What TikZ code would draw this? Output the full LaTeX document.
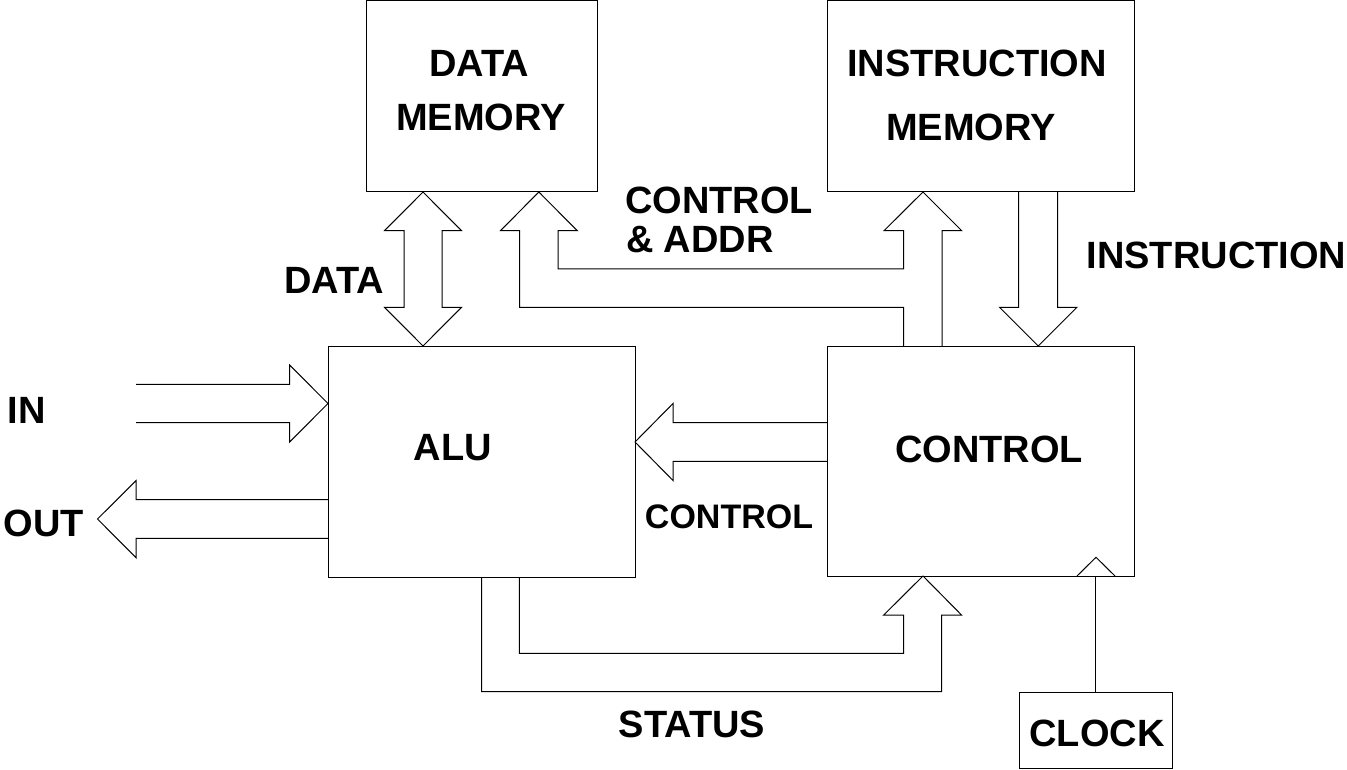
\documentclass[tikz,border=0pt]{standalone}
\usepackage{fontspec}
\setmainfont{Liberation Sans}
\begin{document}
\begin{tikzpicture}[x=1pt,y=-1pt,
  box/.style={draw, line width=1pt, inner sep=0pt, outer sep=0pt},
  bus/.style={draw, line width=1pt, line join=miter},
  lbl/.style={inner sep=0pt, outer sep=0pt, font=\fontsize{38}{38}\selectfont\bfseries}]
\useasboundingbox (0,0) rectangle (1347,770);
% boxes
\node[box, minimum width=231pt, minimum height=191pt] (dmem) at (481.5,96.5) {};
\node[box, minimum width=307pt, minimum height=191pt] (imem) at (980.5,96.5) {};
\node[box, minimum width=307pt, minimum height=231pt] (alu) at (481.5,461.5) {};
\node[box, minimum width=307pt, minimum height=230pt] (ctrl) at (980.5,461) {};
\node[box, minimum width=153pt, minimum height=76pt] (clk) at (1095.5,730) {};
% texts
\node[lbl, anchor=base] (tdata1) at (479,77) {DATA};
\node[lbl, anchor=base] (tdata2) at (481,130.3) {MEMORY};
\node[lbl, anchor=base] (tinst1) at (977,77) {INSTRUCTION};
\node[lbl, anchor=base] (tinst2) at (971,140.3) {MEMORY};
\node[lbl, anchor=base] (talu) at (453,460.3) {ALU};
\node[lbl, anchor=base] (tctrl) at (989,462) {CONTROL};
\node[lbl, anchor=base] (tclk) at (1097,746) {CLOCK};
\node[lbl, anchor=base] (ldata) at (334,293.6) {DATA};
\node[lbl, anchor=base west] (lca1) at (625,213.5) {CONTROL};
\node[lbl, anchor=base west] (lca2) at (626,252) {\& ADDR};
\node[lbl, anchor=base west] (linst) at (1086.6,268.6) {INSTRUCTION};
\node[lbl, anchor=base west] (lin) at (7.6,423.6) {IN};
\node[lbl, anchor=base west] (lout) at (4,536.6) {OUT};
\node[lbl, anchor=base, font=\fontsize{34}{34}\selectfont\bfseries] (lctl) at (729,528) {CONTROL};
\node[lbl, anchor=base] (lstat) at (692,737) {STATUS};
% DATA bus (bidirectional)
\draw[bus] (dmem.south -| 423,0) -- (384.5,230.7) -- (404,230.7) -- (404,307.3)
  -- (384.5,307.3) -- (alu.north -| 423,0) -- (461.5,307.3) -- (442,307.3)
  -- (442,230.7) -- (461.5,230.7) -- cycle;
% CONTROL & ADDR bus
\draw[bus] (ctrl.north -| 942,0) -- (942,230.7) -- (961.7,230.7) -- (imem.south -| 923,0)
  -- (884,230.7) -- (903.6,230.7) -- (903.6,269) -- (558,269) -- (558,230.7)
  -- (577.3,230.7) -- (dmem.south -| 538.8,0) -- (500.5,230.7) -- (519.7,230.7)
  -- (519.7,307.3) -- (903.6,307.3) -- (ctrl.north -| 903.6,0);
% INSTRUCTION bus
\draw[bus] (imem.south -| 1018.7,0) -- (1018.7,307.3) -- (999.5,307.3)
  -- (ctrl.north -| 1038.2,0) -- (1076.9,307.3) -- (1057.7,307.3) -- (imem.south -| 1057.7,0);
% CONTROL -> ALU
\draw[bus] (ctrl.west |- 0,422.7) -- (673.2,422.7) -- (673.2,403.3) -- (alu.east |- 0,442)
  -- (673.2,480.7) -- (673.2,461.3) -- (ctrl.west |- 0,461.3);
% IN
\draw[bus] (136,384.3) -- (289.6,384.3) -- (289.6,365) -- (alu.west |- 0,403.5)
  -- (289.6,442) -- (289.6,422.7) -- (136,422.7);
% OUT
\draw[bus] (alu.west |- 0,499.7) -- (136,499.7) -- (136,480.7) -- (97.5,519)
  -- (136,557.7) -- (136,538.3) -- (alu.west |- 0,538.3);
% STATUS
\draw[bus] (alu.south -| 481.5,0) -- (481.5,691.7) -- (941.7,691.7) -- (941.7,615)
  -- (961.5,615) -- (ctrl.south -| 923,0) -- (883.7,615) -- (903.5,615)
  -- (903.5,653.3) -- (519.3,653.3) -- (alu.south -| 519.3,0);
% CLOCK
\draw[line width=1pt] (clk.north) -- (ctrl.south -| clk.north);
\draw[bus] (ctrl.south -| 1077,0) -- (1096,557.3) -- (ctrl.south -| 1115,0);
\end{tikzpicture}
\end{document}
